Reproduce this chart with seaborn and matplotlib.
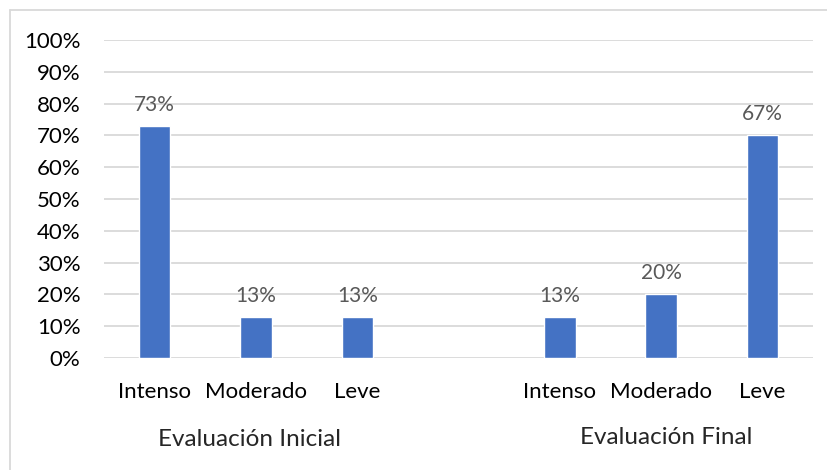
import matplotlib
matplotlib.use("Agg")
import matplotlib.pyplot as plt
import seaborn as sns
import pandas as pd
from matplotlib.ticker import PercentFormatter
from matplotlib.lines import Line2D

# values
groups = ["Evaluación Inicial", "Evaluación Final"]
categories = ["Intenso", "Moderado", "Leve"]
inicial = [0.73, 0.13, 0.13]
final = [0.13, 0.20, 0.70]
inicial_labels = ["73%", "13%", "13%"]
final_labels = ["13%", "20%", "67%"]

rows = []
for c, v, l in zip(categories, inicial, inicial_labels):
    rows.append({"key": "ini_" + c, "cat": c, "value": v, "label": l})
for c, v, l in zip(categories, final, final_labels):
    rows.append({"key": "fin_" + c, "cat": c, "value": v, "label": l})
df = pd.DataFrame(rows)

# blank slot between the two groups
order = list(df["key"][:3]) + ["gap"] + list(df["key"][3:])
tick_labels = categories + [""] + categories

sns.set_style("white")
plt.rcParams["font.family"] = ["Lato", "DejaVu Sans"]

fig = plt.figure(figsize=(8.28, 4.70), dpi=100)
ax = fig.add_axes([0.1256, 0.2383, 0.8564, 0.6767])

sns.barplot(data=df, x="key", y="value", order=order, color="#4472C4",
            width=0.31, saturation=1, ax=ax)

ax.set_ylim(0, 1)
ax.set_xlim(-0.5, 6.5)
ax.set_yticks([i / 10 for i in range(11)])
ax.yaxis.set_major_formatter(PercentFormatter(1.0, decimals=0))
ax.set_xticks(range(len(order)))
ax.set_xticklabels(tick_labels)
ax.tick_params(axis="both", length=0, labelsize=16, colors="#000000")
ax.tick_params(axis="y", pad=17)
ax.tick_params(axis="x", pad=17)
ax.grid(axis="y", color="#d9d9d9", linewidth=1.3)
ax.set_axisbelow(True)
for s in ax.spines.values():
    s.set_visible(False)
ax.set_xlabel("")
ax.set_ylabel("")

# data labels
for i, key in enumerate(order):
    if key == "gap":
        continue
    r = df[df["key"] == key].iloc[0]
    ax.annotate(r["label"], (i, r["value"]), xytext=(0, 8), textcoords="offset points",
                ha="center", va="bottom", fontsize=15, color="#595959")

# group titles
fig.text(250 / 828, 1 - 440 / 470, groups[0], ha="center", va="center", fontsize=17.5)
fig.text(666 / 828, 1 - 438 / 470, groups[1], ha="center", va="center", fontsize=17.5)

# chart frame (top and left edges visible)
fig.add_artist(Line2D([10 / 828, 1], [1 - 10 / 470, 1 - 10 / 470], color="#d9d9d9", lw=1.3))
fig.add_artist(Line2D([10 / 828, 10 / 828], [0, 1 - 10 / 470], color="#d9d9d9", lw=1.3))

fig.savefig("out.png", dpi=100)
